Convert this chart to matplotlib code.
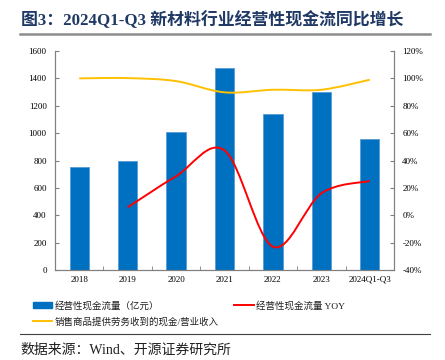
"""Operating cash flow of the new-materials sector, 2018 - 2024Q1-Q3."""
import numpy as np
import matplotlib
matplotlib.use('Agg')
import matplotlib.pyplot as plt
from matplotlib.path import Path
from matplotlib.patches import PathPatch, Patch
from matplotlib.lines import Line2D

plt.rcParams['font.family'] = ['Liberation Serif', 'Noto Sans CJK SC', 'DejaVu Sans']

years = ['2018', '2019', '2020', '2021', '2022', '2023', '2024Q1-Q3']
cash_flow = [750, 794, 1007, 1476, 1140, 1301, 956]          # 亿元
cash_yoy = [None, 5.8, 28.5, 47.4, -23.0, 16.0, 25.0]         # %
cash_ratio = [100.0, 100.2, 98.0, 89.8, 91.7, 91.7, 99.0]     # %

BLUE = '#0070C0'
RED = '#FF0000'
GOLD = '#FFC000'
MIX = ['Liberation Serif', 'Noto Sans CJK SC', 'DejaVu Sans']


def smooth_path(xs, ys):
    # Excel-style smoothed line: Catmull-Rom segments as cubic Beziers
    pts = np.column_stack([xs, ys]).astype(float)
    verts = [pts[0]]
    codes = [Path.MOVETO]
    n = len(pts)
    for i in range(n - 1):
        p0 = pts[max(i - 1, 0)]
        p1 = pts[i]
        p2 = pts[i + 1]
        p3 = pts[min(i + 2, n - 1)]
        verts += [p1 + (p2 - p0) / 6, p2 - (p3 - p1) / 6, p2]
        codes += [Path.CURVE4] * 3
    return Path(verts, codes)


fig = plt.figure(figsize=(4.45, 3.6), dpi=100)
ax = fig.add_axes([55 / 445, 90 / 360, 339 / 445, 219 / 360])
ax2 = ax.twinx()

x = np.arange(len(years))
ax.bar(x, cash_flow, width=0.4, color=BLUE, edgecolor='#5B9BD5', linewidth=0.6, zorder=2)
ax.set_xlim(-0.5, len(years) - 0.5)
ax.set_ylim(0, 1600)
ax.set_yticks(range(0, 1601, 200))
ax.set_xticks(x)
ax.set_xticklabels(years, fontsize=6.5)
ax.set_xticks(np.arange(-0.5, len(years)), minor=True)
ax.tick_params(axis='x', which='major', length=0, pad=4)
ax.tick_params(axis='x', which='minor', length=3, direction='in', color='#808080')
ax.tick_params(axis='y', labelsize=6.5, direction='in', length=3, color='#808080', pad=6)

ax2.set_ylim(-40, 120)
ax2.set_yticks(range(-40, 121, 20))
ax2.set_yticklabels([f'{v}%' for v in range(-40, 121, 20)])
ax2.tick_params(axis='y', labelsize=6.5, direction='in', length=3, color='#808080', pad=6)

for a in (ax, ax2):
    a.spines['top'].set_visible(False)
    for s in ('left', 'right', 'bottom'):
        a.spines[s].set_color('#808080')
        a.spines[s].set_linewidth(0.8)

yoy_x = [i for i, v in enumerate(cash_yoy) if v is not None]
yoy_y = [v for v in cash_yoy if v is not None]
ax2.add_patch(PathPatch(smooth_path(yoy_x, yoy_y), fill=False, edgecolor=RED, lw=1.4, zorder=3))
ax2.add_patch(PathPatch(smooth_path(x, cash_ratio), fill=False, edgecolor=GOLD, lw=1.4, zorder=3))

# title and rules
fig.text(21 / 445, 1 - 20 / 360, '图3：2024Q1-Q3 新材料行业经营性现金流同比增长',
         fontsize=12.2, fontweight='bold', color='#1F3864', va='center', family=MIX)
fig.add_artist(Line2D([20 / 445, 430 / 445], [1 - 34 / 360] * 2, color='#8C8C8C', lw=1.8))
fig.add_artist(Line2D([20 / 445, 430 / 445], [1 - 334 / 360] * 2, color='#404040', lw=0.8))
fig.text(20 / 445, 1 - 350 / 360, '数据来源：Wind、开源证券研究所',
         fontsize=10, color='#202020', va='center', family=MIX)

handles = [
    Patch(facecolor=BLUE, edgecolor=BLUE),
    Line2D([], [], color=GOLD, lw=1.4),
    Line2D([], [], color=RED, lw=1.4),
]
labels = ['经营性现金流量（亿元）', '销售商品提供劳务收到的现金/营业收入', '经营性现金流量 YOY']
leg = fig.legend(handles, labels, loc='upper left', bbox_to_anchor=(24 / 445, 1 - 292 / 360),
                 ncol=2, frameon=False, handlelength=2.1, handleheight=0.5,
                 handletextpad=0.25, columnspacing=1.6, labelspacing=0.7,
                 prop={'family': MIX, 'size': 6.8})
for t in leg.get_texts():
    t.set_color('#202020')

fig.savefig('out.png', dpi=100)
